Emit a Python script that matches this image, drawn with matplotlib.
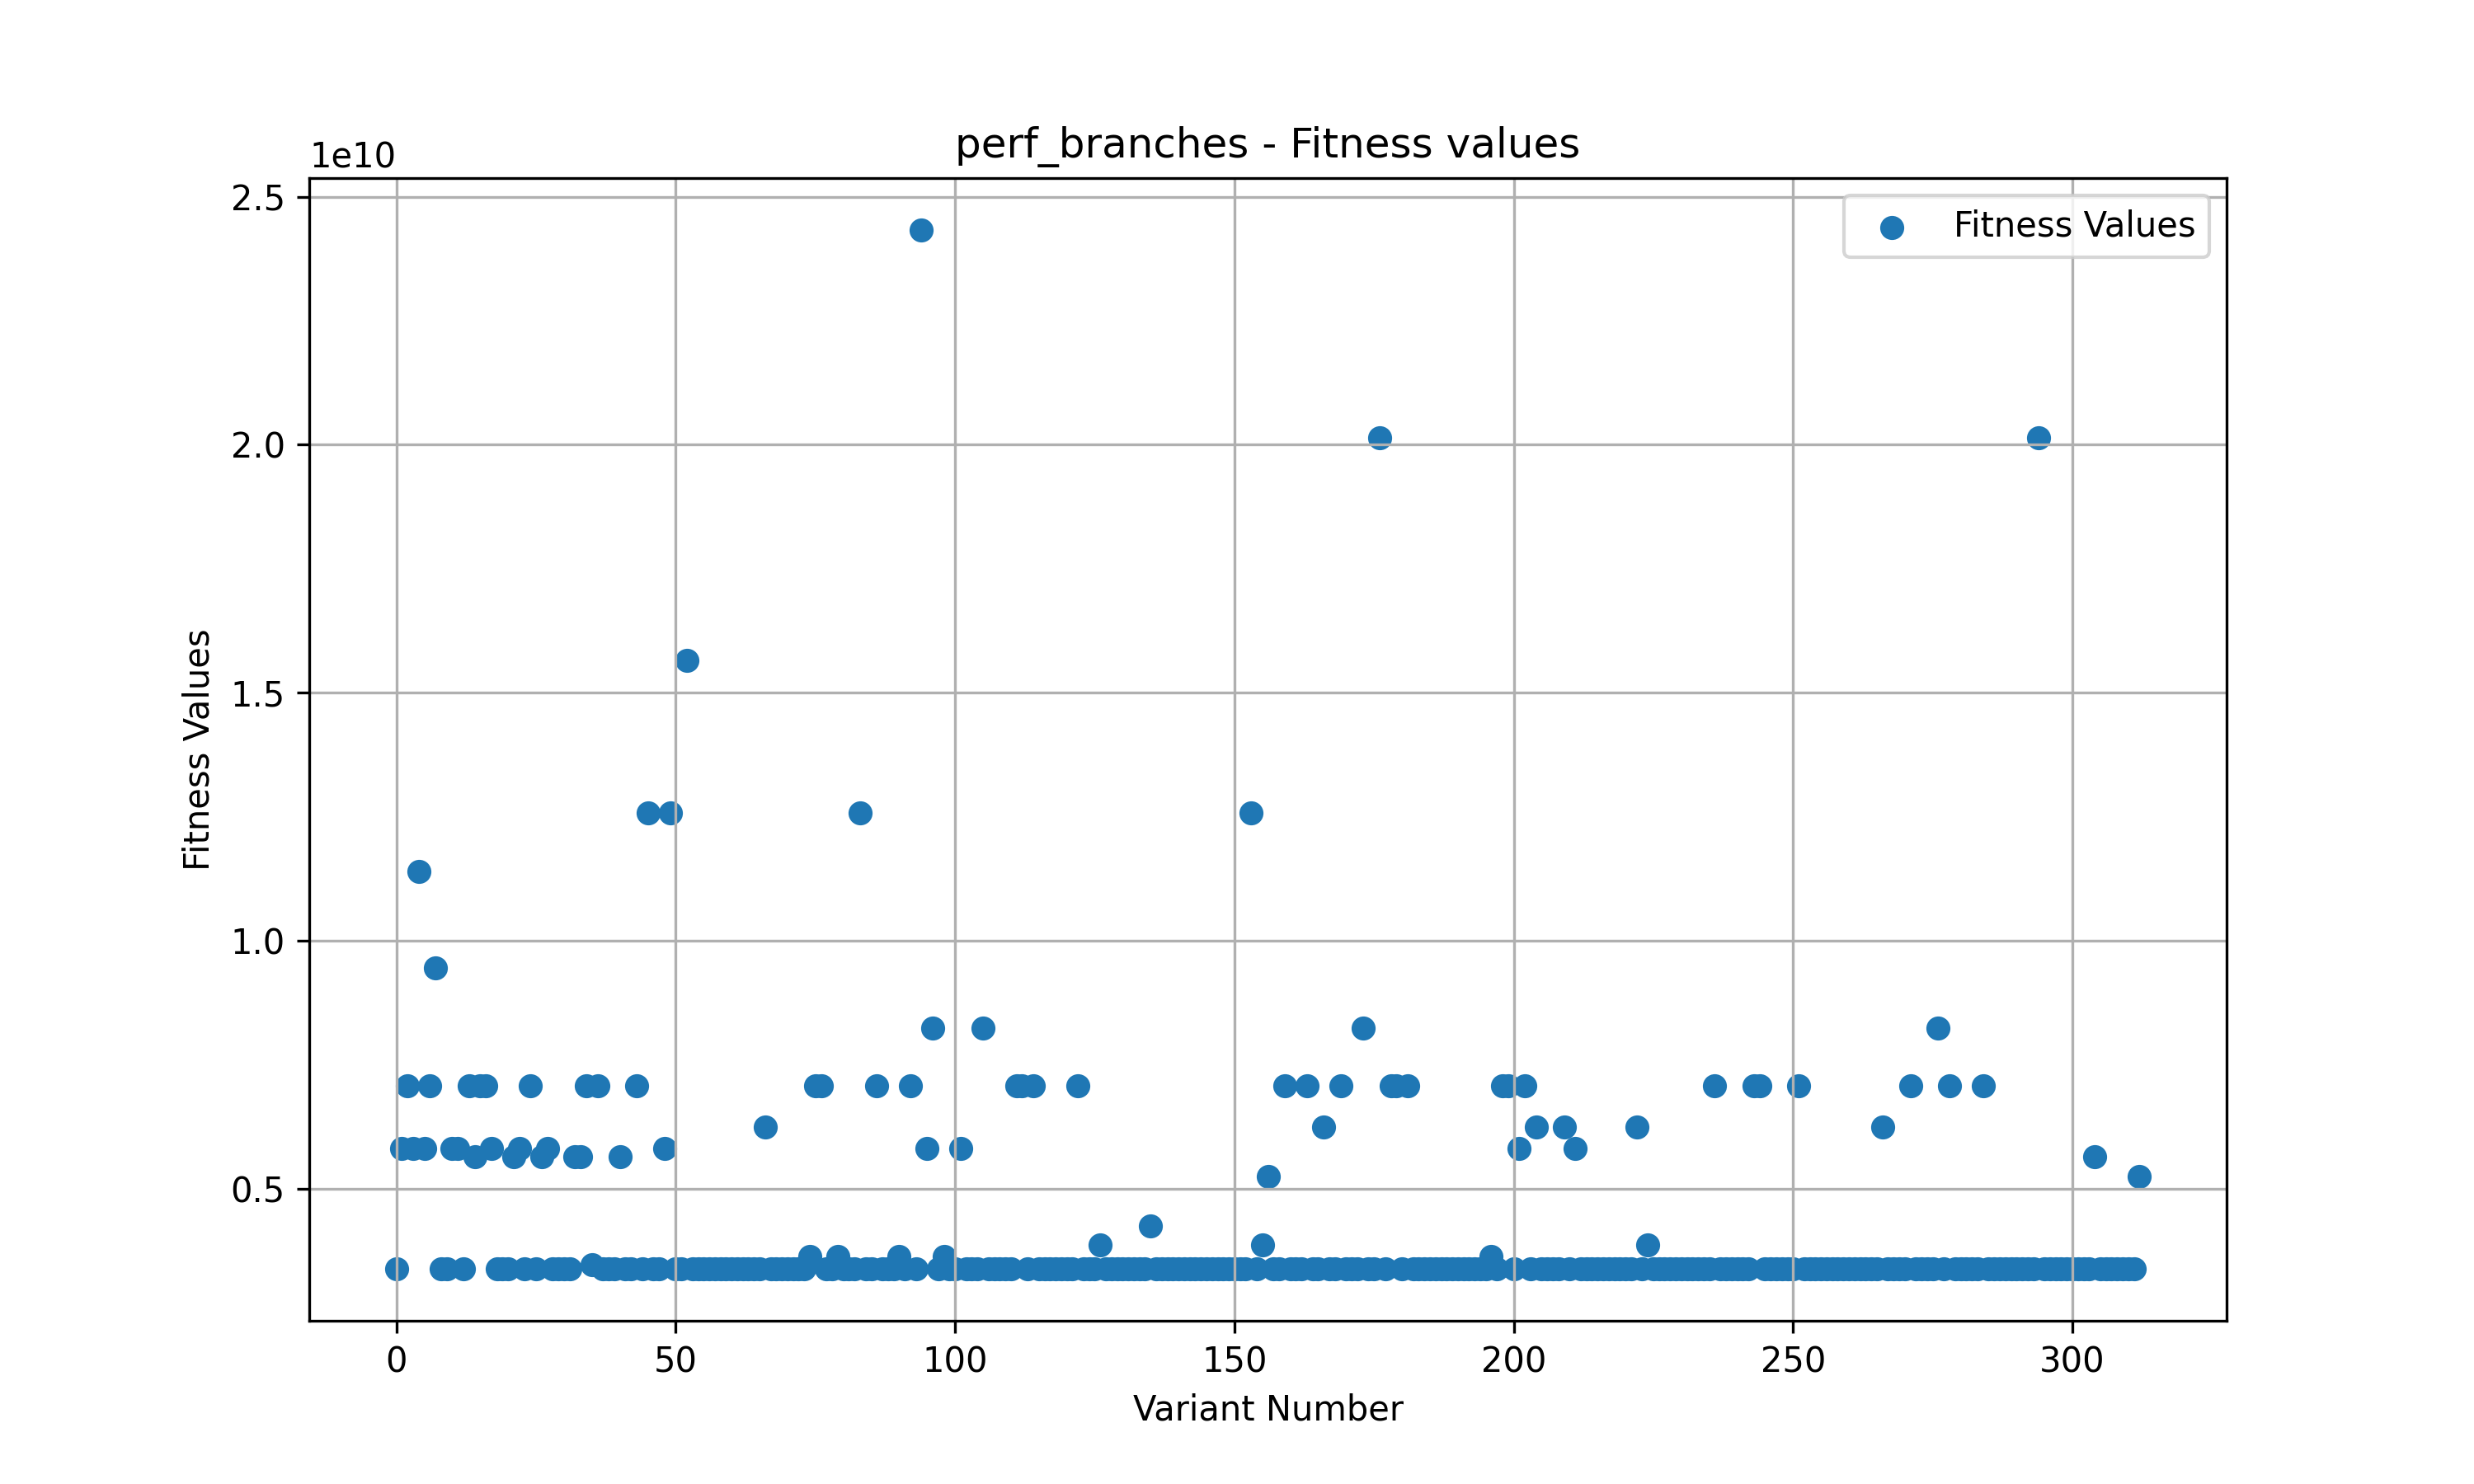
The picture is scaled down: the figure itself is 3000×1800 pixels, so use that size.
import matplotlib
matplotlib.use("Agg")
import matplotlib.pyplot as plt
import numpy as np

B = 3.38  # baseline fitness (x1e9)
fitness_e9 = (
    [3.38, 5.8, 7.07, 5.8, 11.39, 5.8, 7.07, 9.45, B, B] +
    [5.8, 5.8, B, 7.07, 5.64, 7.07, 7.07, 5.8, B, B] +
    [B, 5.64, 5.8, B, 7.07, B, 5.64, 5.8, B, B] +
    [B, B, 5.64, 5.64, 7.07, 3.47, 7.07, B, B, B] +
    [5.64, B, B, 7.07, B, 12.57, B, B, 5.8, 12.57] +
    [B, B, 15.65, B, B, B, B, B, B, B] +
    [B, B, B, B, B, B, 6.24, B, B, B] +
    [B, B, B, B, 3.63, 7.07, 7.07, B, B, 3.63] +
    [B, B, B, 12.57, B, B, 7.07, B, B, B] +
    [3.63, B, 7.07, B, 24.33, 5.8, 8.24, B, 3.63, B] +
    [B, 5.8, B, B, B, 8.24, B, B, B, B] +
    [B, 7.07, 7.07, B, 7.07, B, B, B, B, B] +
    [B, B, 7.07, B, B, B, 3.86, B, B, B] +
    [B, B, B, B, B, 4.24, B, B, B, B] +
    [B, B, B, B, B, B, B, B, B, B] +
    [B, B, B, 12.57, B, 3.86, 5.25, B, B, 7.07] +
    [B, B, B, 7.07, B, B, 6.24, B, B, 7.07] +
    [B, B, B, 8.24, B, B, 20.14, B, 7.07, 7.07] +
    [B, 7.07, B, B, B, B, B, B, B, B] +
    [B, B, B, B, B, B, 3.63, B, 7.07, 7.07] +
    [B, 5.8, 7.07, B, 6.24, B, B, B, B, 6.24] +
    [B, 5.8, B, B, B, B, B, B, B, B] +
    [B, B, 6.24, B, 3.86, B, B, B, B, B] +
    [B, B, B, B, B, B, 7.07, B, B, B] +
    [B, B, B, 7.07, 7.07, B, B, B, B, B] +
    [B, 7.07, B, B, B, B, B, B, B, B] +
    [B, B, B, B, B, B, 6.24, B, B, B] +
    [B, 7.07, B, B, B, B, 8.24, B, 7.07, B] +
    [B, B, B, B, 7.07, B, B, B, B, B] +
    [B, B, B, B, 20.14, B, B, B, B, B] +
    [B, B, B, B, 5.64, B, B, B, B, B] +
    [B, B, 5.25]
)
fitness = np.array(fitness_e9) * 1e9
variants = np.arange(len(fitness))

fig, ax = plt.subplots(figsize=(10, 6), dpi=300)
ax.scatter(variants, fitness, label="Fitness Values")
ax.set_title("perf_branches - Fitness values")
ax.set_xlabel("Variant Number")
ax.set_ylabel("Fitness Values")
ax.grid(True)
ax.legend(loc="upper right")
fig.savefig("out.png")
